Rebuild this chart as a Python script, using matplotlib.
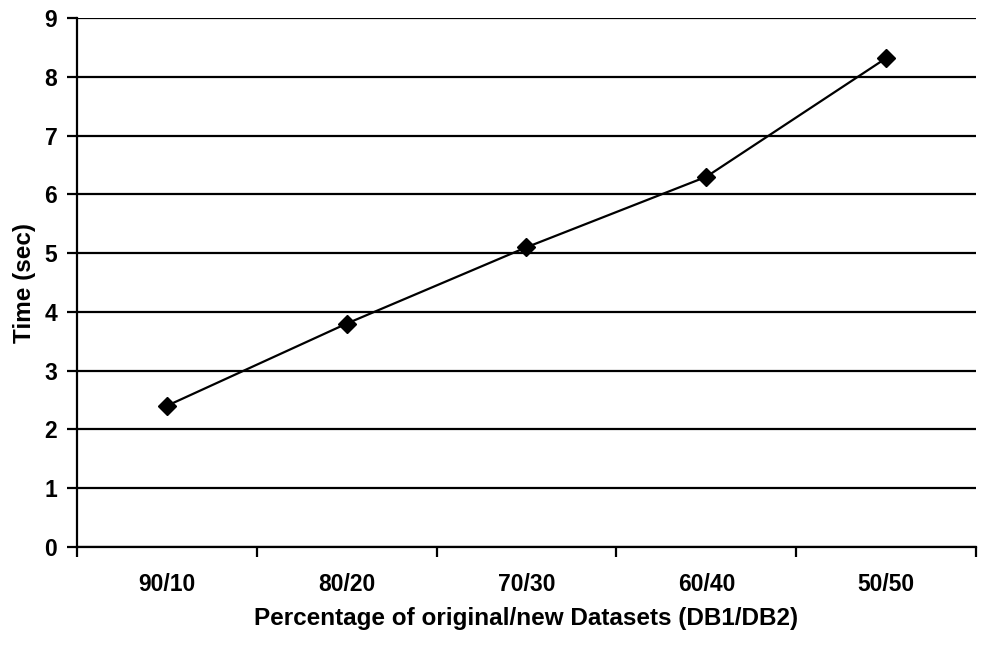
import numpy as np
import matplotlib.pyplot as plt

plt.rcParams['font.family'] = ['Liberation Sans', 'DejaVu Sans']

ratios = ['90/10', '80/20', '70/30', '60/40', '50/50']
times = [2.4, 3.8, 5.1, 6.3, 8.32]

fig = plt.figure(figsize=(9.84, 6.48), dpi=100)
ax = fig.add_axes([0.078, 0.156, 0.914, 0.816])

x = np.arange(len(ratios))
ax.plot(x, times, color='black', lw=1.6, marker='D', ms=9, zorder=3)

ax.set_xlim(-0.5, len(ratios) - 0.5)
ax.set_ylim(0, 9)
ax.set_yticks(range(0, 10))
ax.yaxis.grid(True, color='black', lw=1.6)
ax.set_axisbelow(True)

# category labels centred, tick marks on the boundaries between them
ax.set_xticks(np.arange(-0.5, len(ratios)), minor=False)
ax.set_xticklabels([])
ax.set_xticks(x, minor=True)
ax.set_xticklabels(ratios, minor=True)
ax.tick_params(axis='x', which='minor', length=0, pad=18.5)
ax.tick_params(axis='x', which='major', length=7, width=1.6, direction='out')
ax.tick_params(axis='y', length=7, width=1.6, direction='out', pad=7)

for lbl in ax.get_xticklabels(minor=True) + ax.get_yticklabels():
    lbl.set_fontsize(16.5)
    lbl.set_fontweight('bold')

for side in ['top', 'right']:
    ax.spines[side].set_visible(False)
for side in ['left', 'bottom']:
    ax.spines[side].set_linewidth(1.6)

ax.set_ylabel('Time (sec)', fontsize=17.5, fontweight='bold', labelpad=6)
ax.set_xlabel('Percentage of original/new Datasets (DB1/DB2)', fontsize=17.5,
              fontweight='bold', labelpad=8.5)

fig.savefig('out.png', dpi=100)
